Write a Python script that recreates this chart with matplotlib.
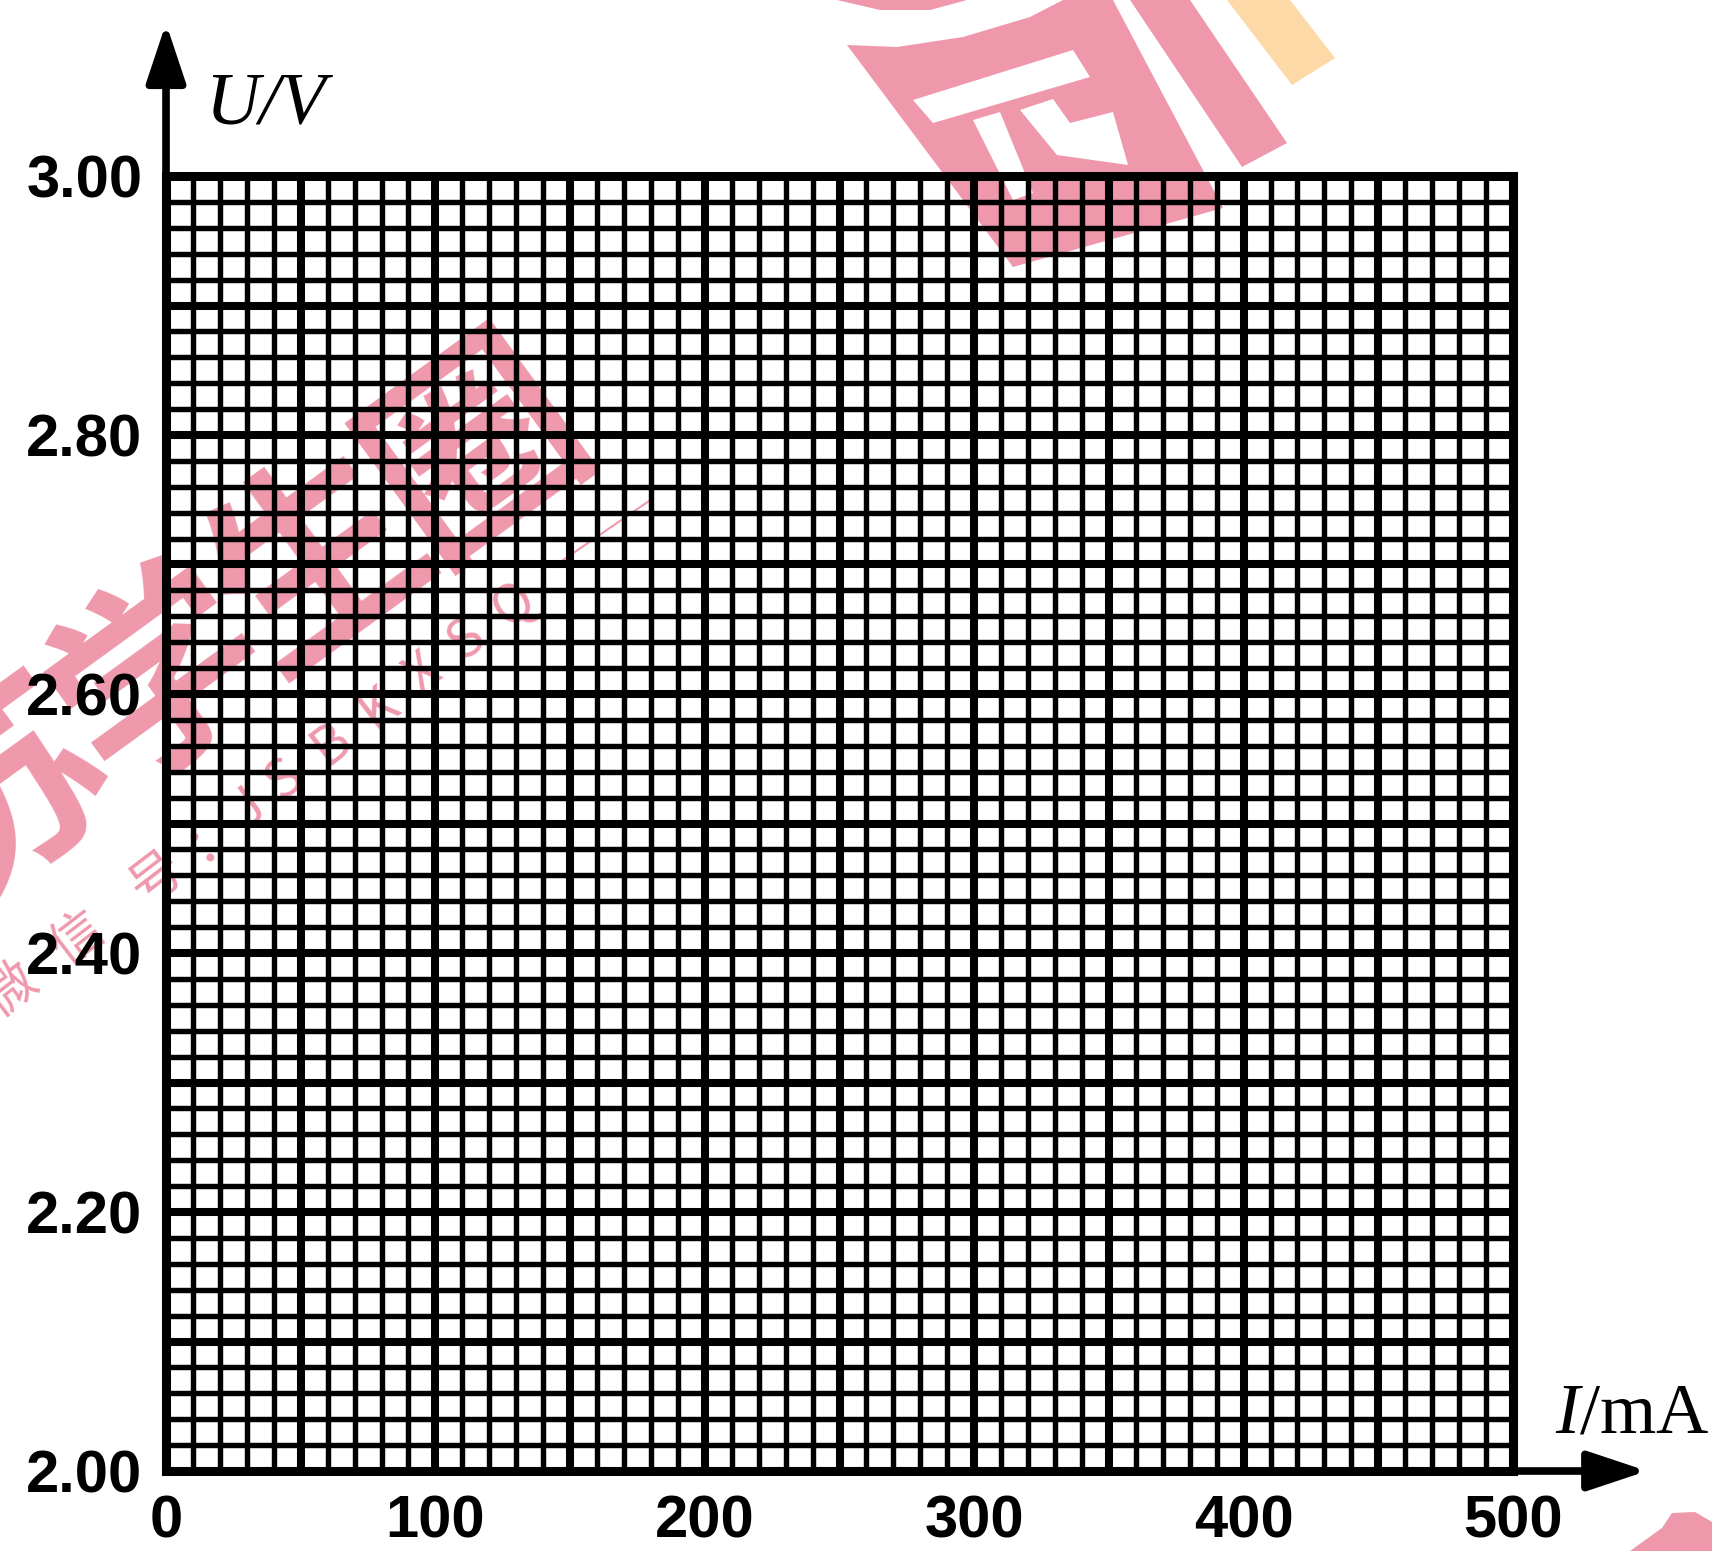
import matplotlib.pyplot as plt
from matplotlib.patches import Polygon
from matplotlib.lines import Line2D
import math

# Axis ranges of the graph paper
x_min, x_max = 0, 500
y_min, y_max = 2.00, 3.00

# Bold lines every 50 mA / 0.1 V, fine lines every 10 mA / 0.02 V
x_major = [0, 50, 100, 150, 200, 250, 300, 350, 400, 450, 500]
x_labels = ['0', '', '100', '', '200', '', '300', '', '400', '', '500']
y_major = [2.00, 2.10, 2.20, 2.30, 2.40, 2.50, 2.60, 2.70, 2.80, 2.90, 3.00]
y_labels = ['2.00', '', '2.20', '', '2.40', '', '2.60', '', '2.80', '', '3.00']
x_step_minor = 10
y_step_minor = 0.02

W, H = 1712, 1551
fig = plt.figure(figsize=(W / 100, H / 100), dpi=100)
ax = fig.add_axes([166 / W, 80 / H, 1347 / W, 1295 / H])
ax.set_facecolor('none')

ax.set_xlim(x_min, x_max)
ax.set_ylim(y_min, y_max)

ax.set_xticks(x_major)
ax.set_xticklabels(x_labels)
ax.set_yticks(y_major)
ax.set_yticklabels(y_labels)
n_x = int(round((x_max - x_min) / x_step_minor))
n_y = int(round((y_max - y_min) / y_step_minor))
ax.set_xticks([x_min + i * x_step_minor for i in range(n_x + 1)], minor=True)
ax.set_yticks([y_min + i * y_step_minor for i in range(n_y + 1)], minor=True)

ax.grid(which='minor', color='black', lw=3.9)
ax.grid(which='major', color='black', lw=5.8)
ax.tick_params(which='both', length=0)
ax.tick_params(axis='x', pad=17)
ax.tick_params(axis='y', pad=17)
for lab in ax.get_xticklabels() + ax.get_yticklabels():
    lab.set_fontfamily('Liberation Sans')
    lab.set_fontweight('bold')
    lab.set_fontsize(43)

for sp in ax.spines.values():
    sp.set_linewidth(6.5)
    sp.set_color('black')

# axis arrows
arrow = dict(arrowstyle='-|>,head_length=0.9,head_width=0.3', lw=5.5, color='black',
             mutation_scale=40, shrinkA=0, shrinkB=0)
ax.annotate('', xy=(0, 1.118), xytext=(0, 1.0), xycoords='axes fraction',
            arrowprops=arrow, annotation_clip=False)
ax.annotate('', xy=(1.0995, 0), xytext=(1.0, 0), xycoords='axes fraction',
            arrowprops=arrow, annotation_clip=False)

# axis names
fig.text(205 / W, 1 - 123 / H, 'U/V', fontfamily='Liberation Serif', style='italic',
         fontsize=54, ha='left', va='baseline')
plt.rcParams['mathtext.fontset'] = 'custom'
plt.rcParams['mathtext.it'] = 'Liberation Serif:italic'
plt.rcParams['mathtext.rm'] = 'Liberation Serif'
fig.text(1555 / W, 1 - 1433 / H, r'$I$/mA', fontfamily='Liberation Serif',
         fontsize=52, ha='left', va='baseline')

# watermark (drawn beneath the grid)
pink = '#ef98ac'


def fpt(pts):
    return [(px / W, 1 - py / H) for px, py in pts]


shapes = [
    ([(847, 45), (897, 47), (963, 37), (1030, 17), (1063, 0), (1113, 0),
      (1223, 208), (1013, 267)], pink),
    ([(837, 0), (880, 10), (930, 10), (967, 0)], pink),
    ([(1130, 0), (1190, 0), (1287, 143), (1242, 167)], pink),
    ([(1227, 0), (1290, 0), (1335, 58), (1292, 85)], '#fdd9a8'),
    ([(913, 100), (1073, 50), (1090, 77), (933, 123)], 'white'),
    ([(973, 120), (1000, 112), (1033, 193), (1013, 200)], 'white'),
    ([(1020, 110), (1053, 99), (1070, 123), (1113, 112), (1128, 165), (1057, 155)], 'white'),
    ([(1630, 1551), (1662, 1528), (1672, 1513), (1695, 1512), (1712, 1522), (1712, 1551)], pink),
]
for pts, col in shapes:
    fig.add_artist(Polygon(fpt(pts), closed=True, facecolor=col, edgecolor='none',
                           transform=fig.transFigure, zorder=-2))

# big watermark characters, last one centred at (478, 450) px
ang = 36
step = 195
end = (478, 450)
big = '苏学生圈'
for i, ch in enumerate(big):
    k = len(big) - 1 - i
    cx = end[0] - k * step * math.cos(math.radians(ang))
    cy = end[1] + k * step * math.sin(math.radians(ang))
    fig.text(cx / W, 1 - cy / H, ch, fontfamily='Noto Sans CJK SC', fontweight='bold',
             fontsize=150, color=pink, rotation=ang, ha='center', va='center',
             rotation_mode='anchor', zorder=-1)

# small watermark line, offsets along the line in px
ang2 = 37.5
small = '微信号：JSBKXSQ'
offsets = [0, 85, 185, 255, 300, 345, 405, 465, 520, 575, 635]
for ch, d in zip(small, offsets):
    cx = 10 + d * math.cos(math.radians(ang2))
    cy = 990 - d * math.sin(math.radians(ang2))
    fig.text(cx / W, 1 - cy / H, ch, fontfamily='Noto Sans CJK SC', fontsize=38,
             color=pink, rotation=ang2, ha='center', va='center',
             rotation_mode='anchor', zorder=-1)
fig.add_artist(Line2D([553 / W, 649 / W], [1 - 567 / H, 1 - 501 / H], color=pink, lw=1.5,
                      transform=fig.transFigure, zorder=-1))

fig.savefig('out.png', dpi=100)
